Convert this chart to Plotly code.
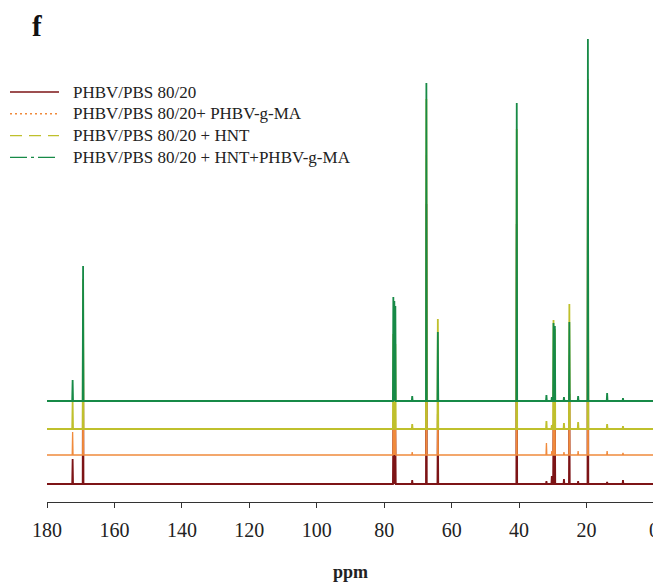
import plotly.graph_objects as go

# ---- data ----
series_names = [
    "PHBV/PBS 80/20",
    "PHBV/PBS 80/20+ PHBV-g-MA",
    "PHBV/PBS 80/20 + HNT",
    "PHBV/PBS 80/20 + HNT+PHBV-g-MA",
]
# peak positions (ppm)
peak_ppm = [172.4, 169.3, 77.3, 77.0, 76.7, 71.7, 67.5, 64.1, 40.7, 31.9, 30.3, 29.8, 29.4, 26.7, 25.1, 22.5, 19.6, 13.9, 9.2]
# peak intensities (arbitrary units) for each series
int_pbs = [25, 150, 62, 60, 55, 4, 280, 70, 260, 3, 8, 60, 70, 5, 90, 3, 300, 2, 4]
int_pbs_ma = [23, 140, 55, 52, 48, 3, 300, 90, 280, 12, 4, 70, 65, 3, 100, 4, 330, 4, 2]
int_pbs_hnt = [27, 150, 95, 92, 85, 5, 330, 110, 300, 8, 4, 109, 100, 6, 125, 7, 350, 5, 3]
int_pbs_hnt_ma = [21, 135, 104, 100, 95, 5, 318, 69, 298, 6, 4, 78, 75, 4, 79, 5, 362, 8, 3]
intensities = [int_pbs, int_pbs_ma, int_pbs_hnt, int_pbs_hnt_ma]
tick_vals = [180, 160, 140, 120, 100, 80, 60, 40, 20, 0]

# ---- style ----
offsets = [18, 47, 73, 101]
colors = ["#7d1416", "#f08a3c", "#bfc02c", "#178a47"]
widths = [1.8, 1.3, 1.8, 1.8]
legend_dashes = ["solid", "2px,3px", "12px,7px", "17px,4px,3px,4px"]
half_width = 0.12
font_family = "Liberation Serif, Times New Roman, serif"
L, R, T, B = 39, 15, 22, 89
W, H = 661, 583
plot_h = H - T - B
plot_w = W - L - R


def px_x(px):
    return (px - L) / plot_w


def px_y(py):
    return 1 - (py - T) / plot_h


fig = go.Figure()

for name, ints, off, col, w in zip(series_names, intensities, offsets, colors, widths):
    order = sorted(range(len(peak_ppm)), key=lambda i: -peak_ppm[i])
    xs = [180.0]
    ys = [off]
    for i in order:
        p = peak_ppm[i]
        xs += [p + half_width, p, p - half_width]
        ys += [off, off + ints[i], off]
    xs.append(0.0)
    ys.append(off)
    fig.add_trace(go.Scatter(x=xs, y=ys, mode="lines", name=name, showlegend=False,
                             line=dict(color=col, width=w), hoverinfo="skip"))

# legend drawn as line samples + text (placed to match the reference)
shapes = []
annotations = []
for i, (name, col, d) in enumerate(zip(series_names, colors, legend_dashes)):
    yc = 84 + 21.8 * i
    shapes.append(dict(type="line", xref="paper", yref="paper",
                       x0=px_x(2), x1=px_x(51), y0=px_y(yc), y1=px_y(yc),
                       line=dict(color=col, width=1.4, dash=d)))
    annotations.append(dict(text=name, x=px_x(63), y=px_y(yc), xref="paper", yref="paper",
                            showarrow=False, xanchor="left", yanchor="middle",
                            font=dict(size=17, family=font_family, color="#222")))

annotations.append(dict(text="<b>f</b>", x=px_x(29), y=px_y(0), xref="paper", yref="paper",
                        showarrow=False, xanchor="center", yanchor="top",
                        font=dict(size=29, family=font_family, color="#111")))
annotations.append(dict(text="<b>ppm</b>", x=0.5, y=px_y(564), xref="paper", yref="paper",
                        showarrow=False, xanchor="center", yanchor="middle",
                        font=dict(size=18, family=font_family, color="#222")))

fig.update_layout(
    width=W, height=H,
    margin=dict(l=L, r=R, t=T, b=B, autoexpand=False),
    paper_bgcolor="white", plot_bgcolor="white",
    font=dict(family=font_family, color="#222"),
    showlegend=False,
    xaxis=dict(range=[180, 0], tickmode="array", tickvals=tick_vals,
               ticks="outside", ticklen=5, tickwidth=1, tickcolor="#333",
               showline=True, linecolor="#333", linewidth=1, showgrid=False, zeroline=False,
               ticklabelstandoff=5,
               tickfont=dict(size=20, family=font_family, color="#222")),
    yaxis=dict(range=[0, plot_h], visible=False, showgrid=False, zeroline=False),
    shapes=shapes,
    annotations=annotations,
)

fig.write_html("out.html")
